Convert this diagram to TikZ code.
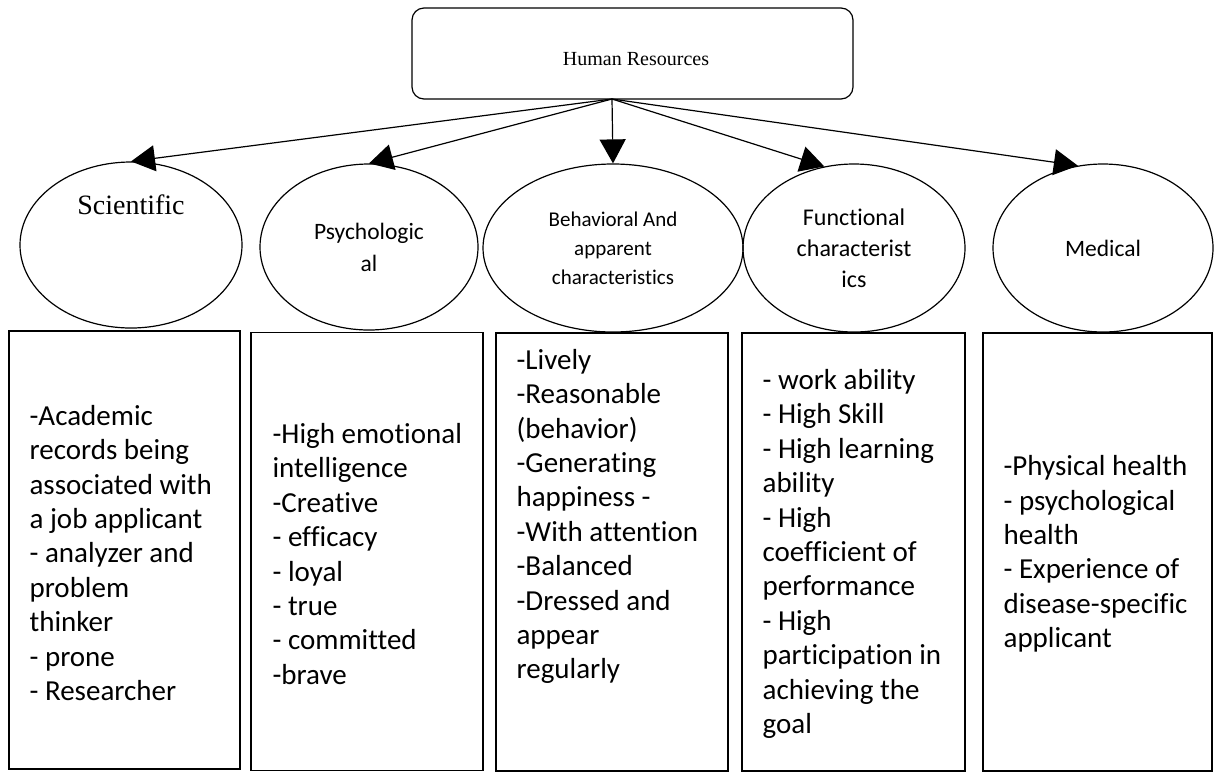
\documentclass[tikz,border=0pt]{standalone}
\usepackage{fontspec}
\setmainfont{Carlito}[Ligatures={NoCommon}]
\newfontfamily\timesfont{Liberation Serif}
\usetikzlibrary{shapes, arrows.meta, positioning}

\begin{document}
\begin{tikzpicture}[x=0.5pt, y=-0.5pt, line width=0.6pt,
                trait/.style={draw, ellipse, inner sep=0pt, align=center},
                listbox/.style={draw, rectangle, inner sep=0pt, minimum height=219pt},
                items/.style={anchor=west, align=left, inner sep=0pt, font=\fontsize{14.5pt}{17.2pt}\selectfont},
                link/.style={-{Triangle[length=12pt, width=13pt]}}]
                \useasboundingbox (0,0) rectangle (1214,772);

                \node [draw, rounded corners=6pt, minimum width=220.5pt, minimum height=45.5pt] (HR) at (632.5,53.5) {};
                \node [font=\timesfont\fontsize{10pt}{12pt}\selectfont] (HRtext) at (636,59) {Human Resources};
                \coordinate (hub) at (612,99);

                \node [trait, minimum width=111pt, minimum height=83pt] (E1) at (131,245) {};
                \node [font=\timesfont\fontsize{14pt}{16pt}\selectfont] (E1text) at (131,205) {Scientific};
                \node [trait, minimum width=109pt, minimum height=83pt, font=\fontsize{11.75pt}{16pt}\selectfont] (E2) at (369,247) {Psychologic\\al};
                \node [trait, minimum width=130pt, minimum height=84pt, font=\fontsize{10.5pt}{14.5pt}\selectfont] (E3) at (613,248) {Behavioral And\\apparent\\characteristics};
                \node [trait, minimum width=111pt, minimum height=84pt, font=\fontsize{12pt}{15.5pt}\selectfont] (E4) at (854,248) {Functional\\characterist\\ics};
                \node [trait, minimum width=110pt, minimum height=84pt, font=\fontsize{11.75pt}{16pt}\selectfont] (E5) at (1103,248) {Medical};

                \draw [link] (hub) -- (E1.north);
                \draw [link] (hub) -- (E2.north);
                \draw [link] (hub) -- (E3.north);
                \draw [link] (hub) -- (E4.110);
                \draw [link] (hub) -- (E5.107);

                \node [listbox, minimum width=115.5pt] (B1) at (124.5,550) {};
                \node [listbox, minimum width=116pt] (B2) at (367,551.5) {};
                \node [listbox, minimum width=116pt] (B3) at (612,552) {};
                \node [listbox, minimum width=111.5pt] (B4) at (853.5,552) {};
                \node [listbox, minimum width=114.5pt] (B5) at (1097.5,552) {};

                \node [items] (B1text) at (29,553) {-Academic\\records being\\associated with\\a job applicant\\- analyzer and\\problem\\thinker\\- prone\\- Researcher};
                \node [items] (B2text) at (272,554) {-High emotional\\intelligence\\-Creative\\- efficacy\\- loyal\\- true\\- committed\\-brave};
                \node [items] (B3text) at (516,516.5) {-Lively\\-Reasonable\\(behavior)\\-Generating\\happiness -\\-With attention\\-Balanced\\-Dressed and\\appear\\regularly};
                \node [items] (B4text) at (762,554) {- work ability\\- High Skill\\- High learning\\ability\\- High\\coefficient of\\performance\\- High\\participation in\\achieving the\\goal};
                \node [items] (B5text) at (1003,554) {-Physical health\\- psychological\\health\\- Experience of\\disease-specific\\applicant};
            \end{tikzpicture}
\end{document}
